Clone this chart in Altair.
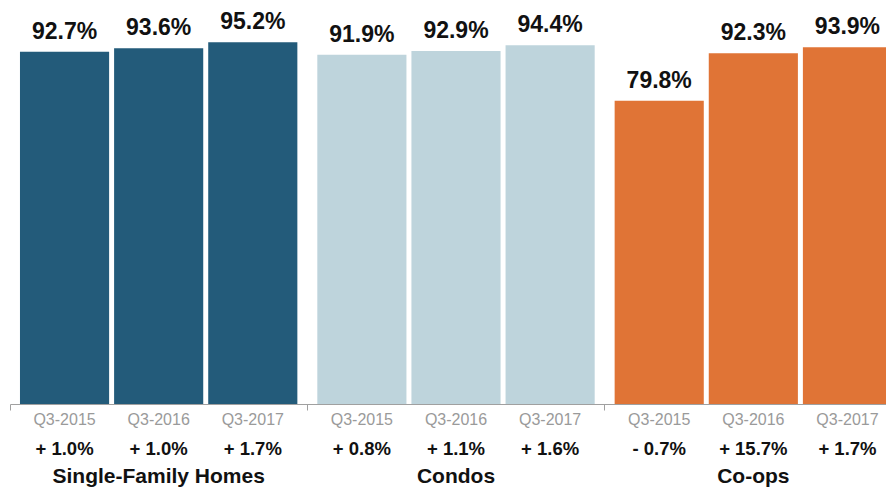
import altair as alt
import pandas as pd

groups = ["Single-Family Homes", "Condos", "Co-ops"]
periods = ["Q3-2015", "Q3-2016", "Q3-2017"]
values = {
    "Single-Family Homes": [92.7, 93.6, 95.2],
    "Condos": [91.9, 92.9, 94.4],
    "Co-ops": [79.8, 92.3, 93.9],
}
changes = {
    "Single-Family Homes": [1.0, 1.0, 1.7],
    "Condos": [0.8, 1.1, 1.6],
    "Co-ops": [-0.7, 15.7, 1.7],
}
colors = ["#235b7a", "#bed4dc", "#e07436"]

rows = []
for g in groups:
    for p, v, c in zip(periods, values[g], changes[g]):
        sign = "+" if c >= 0 else "-"
        rows.append({
            "group": g, "period": p, "value": v,
            "vlabel": f"{v:.1f}%",
            "clabel": f"{sign} {abs(c):.1f}%",
        })
df = pd.DataFrame(rows)
gdf = pd.DataFrame({"group": groups})

FONT = "Liberation Sans"

x = alt.X("group:N", sort=groups,
          scale=alt.Scale(paddingInner=0, paddingOuter=0),
          axis=alt.Axis(labels=False, title=None, ticks=True, tickSize=6,
                        tickColor="#a0a0a0", domainColor="#a0a0a0",
                        bandPosition=0, grid=False))
xo = alt.XOffset("period:N", sort=periods,
                 scale=alt.Scale(paddingInner=0.053, paddingOuter=0.106))

base = alt.Chart(df)

bars = base.mark_bar().encode(
    x=x, xOffset=xo,
    y=alt.Y("value:Q", scale=alt.Scale(domain=[0, 100]), axis=None),
    color=alt.Color("group:N", sort=groups,
                    scale=alt.Scale(domain=groups, range=colors), legend=None),
)

top = base.mark_text(font=FONT, fontSize=23, fontWeight="bold", dy=-13,
                     baseline="alphabetic", color="#111").encode(
    x=x, xOffset=xo, y=alt.Y("value:Q"), text="vlabel:N")

yr = base.mark_text(font=FONT, fontSize=16, baseline="alphabetic",
                    color="#9a9a9a").encode(
    x=x, xOffset=xo, y=alt.value(401), text="period:N")

chg = base.mark_text(font=FONT, fontSize=18.5, fontWeight="bold",
                     baseline="alphabetic", color="#111").encode(
    x=x, xOffset=xo, y=alt.value(431), text="clabel:N")

ttl = alt.Chart(gdf).mark_text(font=FONT, fontSize=21, fontWeight="bold",
                               baseline="alphabetic", color="#111").encode(
    x=x, y=alt.value(459), text="group:N")

chart = alt.layer(bars, top, yr, chg, ttl).properties(
    width=892, height=380,
    autosize=alt.AutoSizeParams(type="none"),
    padding={"left": 2, "right": -16, "top": 16, "bottom": 85},
).configure_view(stroke=None)

chart.save("out.html", embed_options={"renderer": "svg", "actions": False})
